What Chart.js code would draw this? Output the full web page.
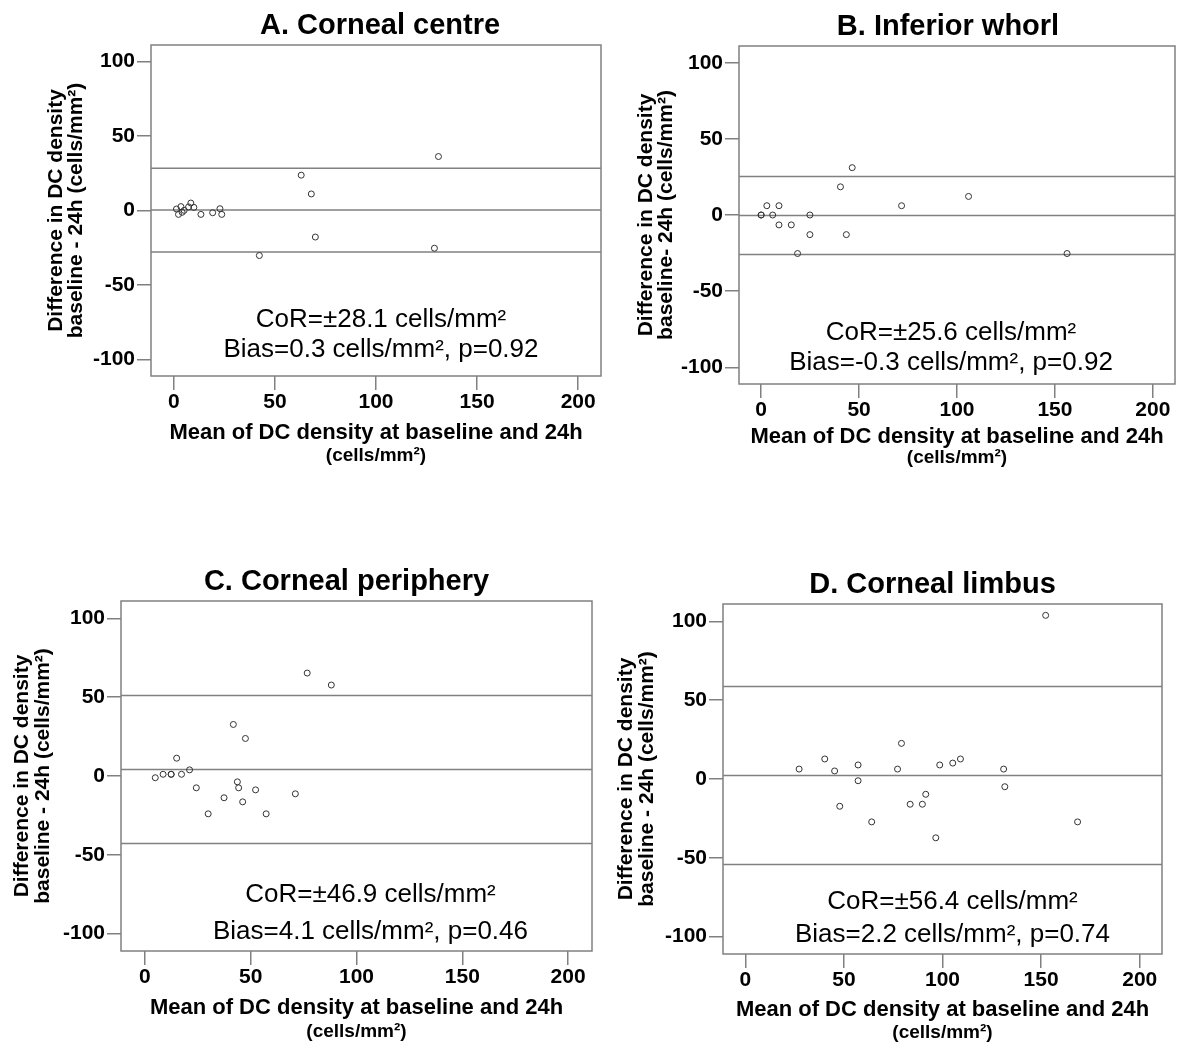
<!DOCTYPE html>
<html>
<head>
<meta charset="utf-8">
<title>DC density - baseline vs 24h</title>
<script src="https://cdn.jsdelivr.net/npm/chart.js@4.4.1/dist/chart.umd.min.js"></script>
<style>
  body { margin: 0; background: #fff; }
  #page { position: relative; width: 1180px; height: 1043px; overflow: hidden; }
  #page canvas { position: absolute; }
</style>
</head>
<body>
<div id="page">
  <canvas id="chartA"></canvas>
  <canvas id="chartB"></canvas>
  <canvas id="chartC"></canvas>
  <canvas id="chartD"></canvas>
</div>
<script>
// values
const panelTitles = ['A. Corneal centre', 'B. Inferior whorl', 'C. Corneal periphery', 'D. Corneal limbus'];
const xTicks = [0, 50, 100, 150, 200];
const yTicks = [-100, -50, 0, 50, 100];
const xRange = [-11.3, 211.3];
const yRange = [-111, 111];

const centreMean = [1.3, 2.3, 3.5, 4.1, 5.1, 7.3, 8.4, 9.9, 13.4, 19.2, 22.8, 23.7, 42.3, 63.0, 68.0, 70.0, 128.9, 130.9];
const centreDiff = [1.0, -2.6, 2.6, -1.2, 0.1, 2.4, 5.0, 2.1, -2.6, -1.5, 1.2, -2.6, -30.2, 23.7, 11.1, -17.8, -25.3, 36.2];

const whorlMean = [0, 0, 2.9, 9.1, 5.9, 24.9, 9.1, 15.4, 24.9, 43.5, 18.6, 40.5, 46.5, 71.7, 105.9, 156.2];
const whorlDiff = [0, 0, 6.1, 6.1, 0, 0, -6.5, -6.5, -12.9, -12.9, -25.3, 18.5, 31.1, 6.1, 12.2, -25.3];

const peripheryMean = [4.9, 8.6, 12.4, 12.4, 15.0, 17.3, 21.1, 24.3, 29.9, 37.4, 41.8, 43.7, 44.3, 46.2, 47.5, 52.3, 57.3, 71.1, 76.7, 88.1];
const peripheryDiff = [-1.1, 1.1, 1.1, 1.1, 11.3, 1.1, 3.9, -7.5, -24.0, -13.8, 32.7, -3.7, -7.5, -16.4, 23.8, -8.8, -24.0, -11.3, 65.3, 57.7];

const limbusMean = [27.3, 40.3, 45.3, 47.9, 57.2, 57.2, 64.1, 77.2, 79.2, 83.6, 89.8, 91.5, 96.6, 98.6, 105.2, 109.1, 131.0, 131.6, 152.3, 168.5];
const limbusDiff = [6.3, 12.7, 5.1, -17.3, 8.9, -1.1, -27.2, 6.3, 22.6, -16.0, -16.0, -9.7, -37.3, 8.9, 10.1, 12.7, 6.3, -4.9, 103.8, -27.2];

const biasValues = [0.3, -0.3, 4.1, 2.2];
const corValues = [28.1, 25.6, 46.9, 56.4];
const pValues = ['0.92', '0.92', '0.46', '0.74'];

const xTitle = ['Mean of DC density at baseline and 24h', '(cells/mm²)'];
const yTitleFirst = 'Difference in DC density';
const yTitleSecond = ['baseline - 24h (cells/mm²)', 'baseline- 24h (cells/mm²)', 'baseline - 24h (cells/mm²)', 'baseline - 24h (cells/mm²)'];

const fontFamily = 'Arial, "Liberation Sans", sans-serif';

// page layout: canvas box and plot frame, in page pixels
const panels = [
  { id: 'chartA', mean: centreMean, diff: centreDiff,
    box: [0, 0, 610, 480], area: [151, 45, 601, 376],
    titleDx: 4, noteDx: 5, noteDy: [-56, -26], xTitleDy: [57, 80], yTitleDx: [95, 75] },
  { id: 'chartB', mean: whorlMean, diff: whorlDiff,
    box: [605, 0, 575, 480], area: [739, 46, 1175, 384],
    titleDx: -9, noteDx: -6, noteDy: [-51, -21], xTitleDy: [53, 74], yTitleDx: [93, 73] },
  { id: 'chartC', mean: peripheryMean, diff: peripheryDiff,
    box: [0, 540, 600, 503], area: [121, 601, 592, 951],
    titleDx: -10, noteDx: 14, noteDy: [-56, -19], xTitleDy: [57, 81], yTitleDx: [99, 78] },
  { id: 'chartD', mean: limbusMean, diff: limbusDiff,
    box: [600, 540, 580, 503], area: [723, 604, 1162, 954],
    titleDx: -10, noteDx: 10, noteDy: [-52, -19], xTitleDy: [56, 79], yTitleDx: [97, 76] }
];

const decorPlugin = {
  id: 'decor',
  afterDraw(chart, args, o) {
    const ctx = chart.ctx;
    const a = chart.chartArea;
    const cx = (a.left + a.right) / 2;
    const cy = (a.top + a.bottom) / 2;

    ctx.save();
    ctx.strokeStyle = '#808080';
    ctx.lineWidth = 1.5;
    ctx.strokeRect(a.left, a.top, a.right - a.left, a.bottom - a.top);

    ctx.fillStyle = '#000';
    ctx.textAlign = 'center';
    ctx.textBaseline = 'middle';

    ctx.font = 'bold 29px ' + fontFamily;
    ctx.fillText(o.title, cx + o.titleDx, a.top - 19);

    ctx.font = 'bold 22px ' + fontFamily;
    ctx.fillText(xTitle[0], cx, a.bottom + o.xTitleDy[0]);
    ctx.font = 'bold 19px ' + fontFamily;
    ctx.fillText(xTitle[1], cx, a.bottom + o.xTitleDy[1]);

    ctx.font = 'bold 21px ' + fontFamily;
    o.yTitle.forEach((line, i) => {
      ctx.save();
      ctx.translate(a.left - o.yTitleDx[i], cy);
      ctx.rotate(-Math.PI / 2);
      ctx.fillText(line, 0, 0);
      ctx.restore();
    });

    ctx.font = '26px ' + fontFamily;
    o.note.forEach((line, i) => {
      ctx.fillText(line, cx + o.noteDx, a.bottom + o.noteDy[i]);
    });
    ctx.restore();
  }
};

function hLine(value) {
  return {
    data: [{ x: xRange[0], y: value }, { x: xRange[1], y: value }],
    showLine: true,
    borderColor: '#808080',
    borderWidth: 1.5,
    pointRadius: 0
  };
}

function makePanel(p, i) {
  const canvas = document.getElementById(p.id);
  const [bx, by, bw, bh] = p.box;
  const [al, at, ar, ab] = p.area;
  canvas.width = bw;
  canvas.height = bh;
  canvas.style.left = bx + 'px';
  canvas.style.top = by + 'px';

  const bias = biasValues[i];
  const cor = corValues[i];

  new Chart(canvas, {
    type: 'scatter',
    data: {
      datasets: [
        {
          data: p.mean.map((m, k) => ({ x: m, y: p.diff[k] })),
          pointRadius: 3,
          pointBorderWidth: 1,
          pointBorderColor: '#333',
          pointBackgroundColor: 'rgba(0,0,0,0)'
        },
        hLine(bias + cor),
        hLine(bias),
        hLine(bias - cor)
      ]
    },
    options: {
      responsive: false,
      animation: false,
      events: [],
      layout: {
        padding: { top: at - by, right: bx + bw - ar, left: 0, bottom: 0 }
      },
      scales: {
        x: {
          type: 'linear',
          min: xRange[0],
          max: xRange[1],
          afterBuildTicks: s => { s.ticks = xTicks.map(v => ({ value: v })); },
          afterFit: s => { s.height = by + bh - ab; },
          border: { display: false },
          grid: { drawOnChartArea: false, tickLength: 14, color: '#808080', lineWidth: 1.5 },
          ticks: {
            color: '#000',
            padding: 0,
            font: { family: fontFamily, size: 21, weight: 'bold' },
            callback: v => String(v)
          }
        },
        y: {
          type: 'linear',
          min: yRange[0],
          max: yRange[1],
          afterBuildTicks: s => { s.ticks = yTicks.map(v => ({ value: v })); },
          afterFit: s => { s.width = al - bx; },
          border: { display: false },
          grid: { drawOnChartArea: false, tickLength: 14, color: '#808080', lineWidth: 1.5 },
          ticks: {
            color: '#000',
            padding: 2,
            font: { family: fontFamily, size: 21, weight: 'bold' },
            callback: v => String(v)
          }
        }
      },
      plugins: {
        legend: { display: false },
        tooltip: { enabled: false },
        decor: {
          title: panelTitles[i],
          titleDx: p.titleDx,
          noteDx: p.noteDx,
          noteDy: p.noteDy,
          xTitleDy: p.xTitleDy,
          yTitleDx: p.yTitleDx,
          yTitle: [yTitleFirst, yTitleSecond[i]],
          note: [
            'CoR=±' + cor.toFixed(1) + ' cells/mm²',
            'Bias=' + bias.toFixed(1) + ' cells/mm², p=' + pValues[i]
          ]
        }
      }
    },
    plugins: [decorPlugin]
  });
}

panels.forEach(makePanel);
</script>
</body>
</html>
